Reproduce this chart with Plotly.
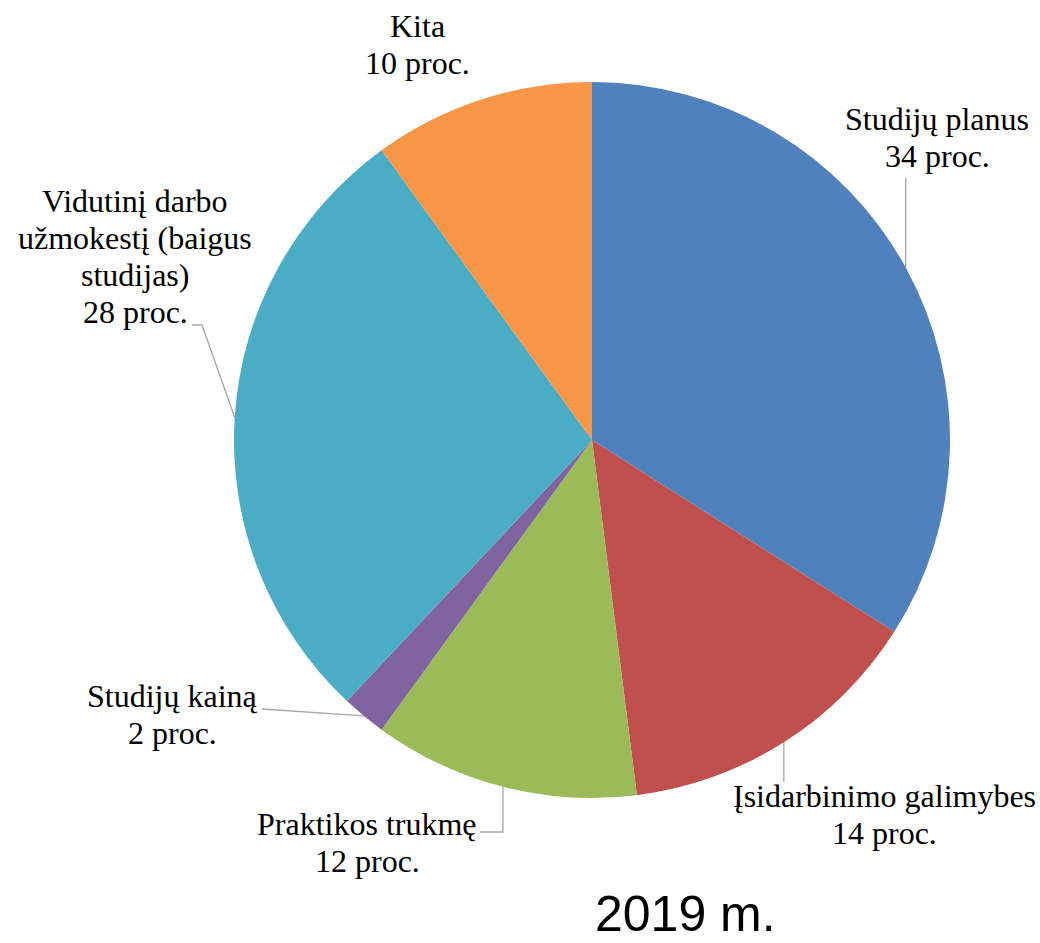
import math
import plotly.graph_objects as go

# ---- data ----
labels = ["Studijų planus", "Įsidarbinimo galimybes", "Praktikos trukmę",
          "Studijų kainą", "Vidutinį darbo\nužmokestį (baigus\nstudijas)", "Kita"]
values = [34, 14, 12, 2, 28, 10]
colors = ["#4F81BD", "#C0504D", "#9BBB59", "#8064A2", "#4BACC6", "#F79646"]
title_text = "2019 m."

# ---- layout geometry (pixels) ----
W, H = 1040, 943
CX, CY, R = 592, 440, 358
FS = 32          # label font size
PITCH = 37       # label line pitch

# label: (centre x, first baseline y) in pixels
label_pos = [(937, 131), (884, 808), (367, 836), (172, 708), (135, 213), (417, 38)]
# leader-line start points on the label side (pixels); None = no leader line
leader_start = [
    [("edge", 178)],
    [("edge", 782)],
    [(480, 832), ("edge", 832)],
    [(262, 709)],
    [(192, 325), (202, 325)],
    None,
]


def px(x):
    return x / W


def py(y):
    return 1 - y / H


fig = go.Figure()
fig.add_trace(go.Pie(
    labels=[l.replace("\n", " ") for l in labels], values=values, sort=False,
    direction="clockwise", rotation=0,
    marker=dict(colors=colors, line=dict(width=0)),
    textinfo="none", hoverinfo="label+percent", showlegend=False,
    domain=dict(x=[px(CX - R), px(CX + R)], y=[py(CY + R), py(CY - R)]),
))

total = sum(values)
cum = 0
annotations = []
shapes = []
for i, v in enumerate(values):
    theta = 2 * math.pi * (cum + v / 2) / total
    cum += v
    ex = CX + R * math.sin(theta)
    ey = CY - R * math.cos(theta)
    lx, lb = label_pos[i]
    lines = labels[i].split("\n") + [f"{v} proc."]
    for k, line in enumerate(lines):
        base = lb + k * PITCH
        annotations.append(dict(
            x=px(lx), y=py(base - 0.38 * FS), xref="paper", yref="paper",
            text=line, showarrow=False,
            xanchor="center", yanchor="middle", align="center",
            font=dict(family="Liberation Serif", size=FS, color="black"),
        ))
    ls = leader_start[i]
    if ls is not None:
        pts = [(ex if a == "edge" else a, b) for a, b in ls]
        pts.append((ex, ey))
        path = "M " + " L ".join(f"{px(a):.5f},{py(b):.5f}" for a, b in pts)
        shapes.append(dict(type="path", path=path, xref="paper", yref="paper",
                           line=dict(color="#A6A6A6", width=1.3), layer="below"))

annotations.append(dict(
    x=px(685), y=0, xref="paper", yref="paper", text=title_text,
    showarrow=False, xanchor="center", yanchor="bottom", borderpad=0,
    font=dict(family="Liberation Sans", size=50, color="black"),
))

fig.update_layout(
    width=W, height=H, margin=dict(l=0, r=0, t=0, b=0),
    paper_bgcolor="white", plot_bgcolor="white",
    annotations=annotations, shapes=shapes,
)
fig.write_html("out.html", config={"displayModeBar": False},
               post_script="document.body.style.margin='0px';document.body.style.overflow='hidden';")
